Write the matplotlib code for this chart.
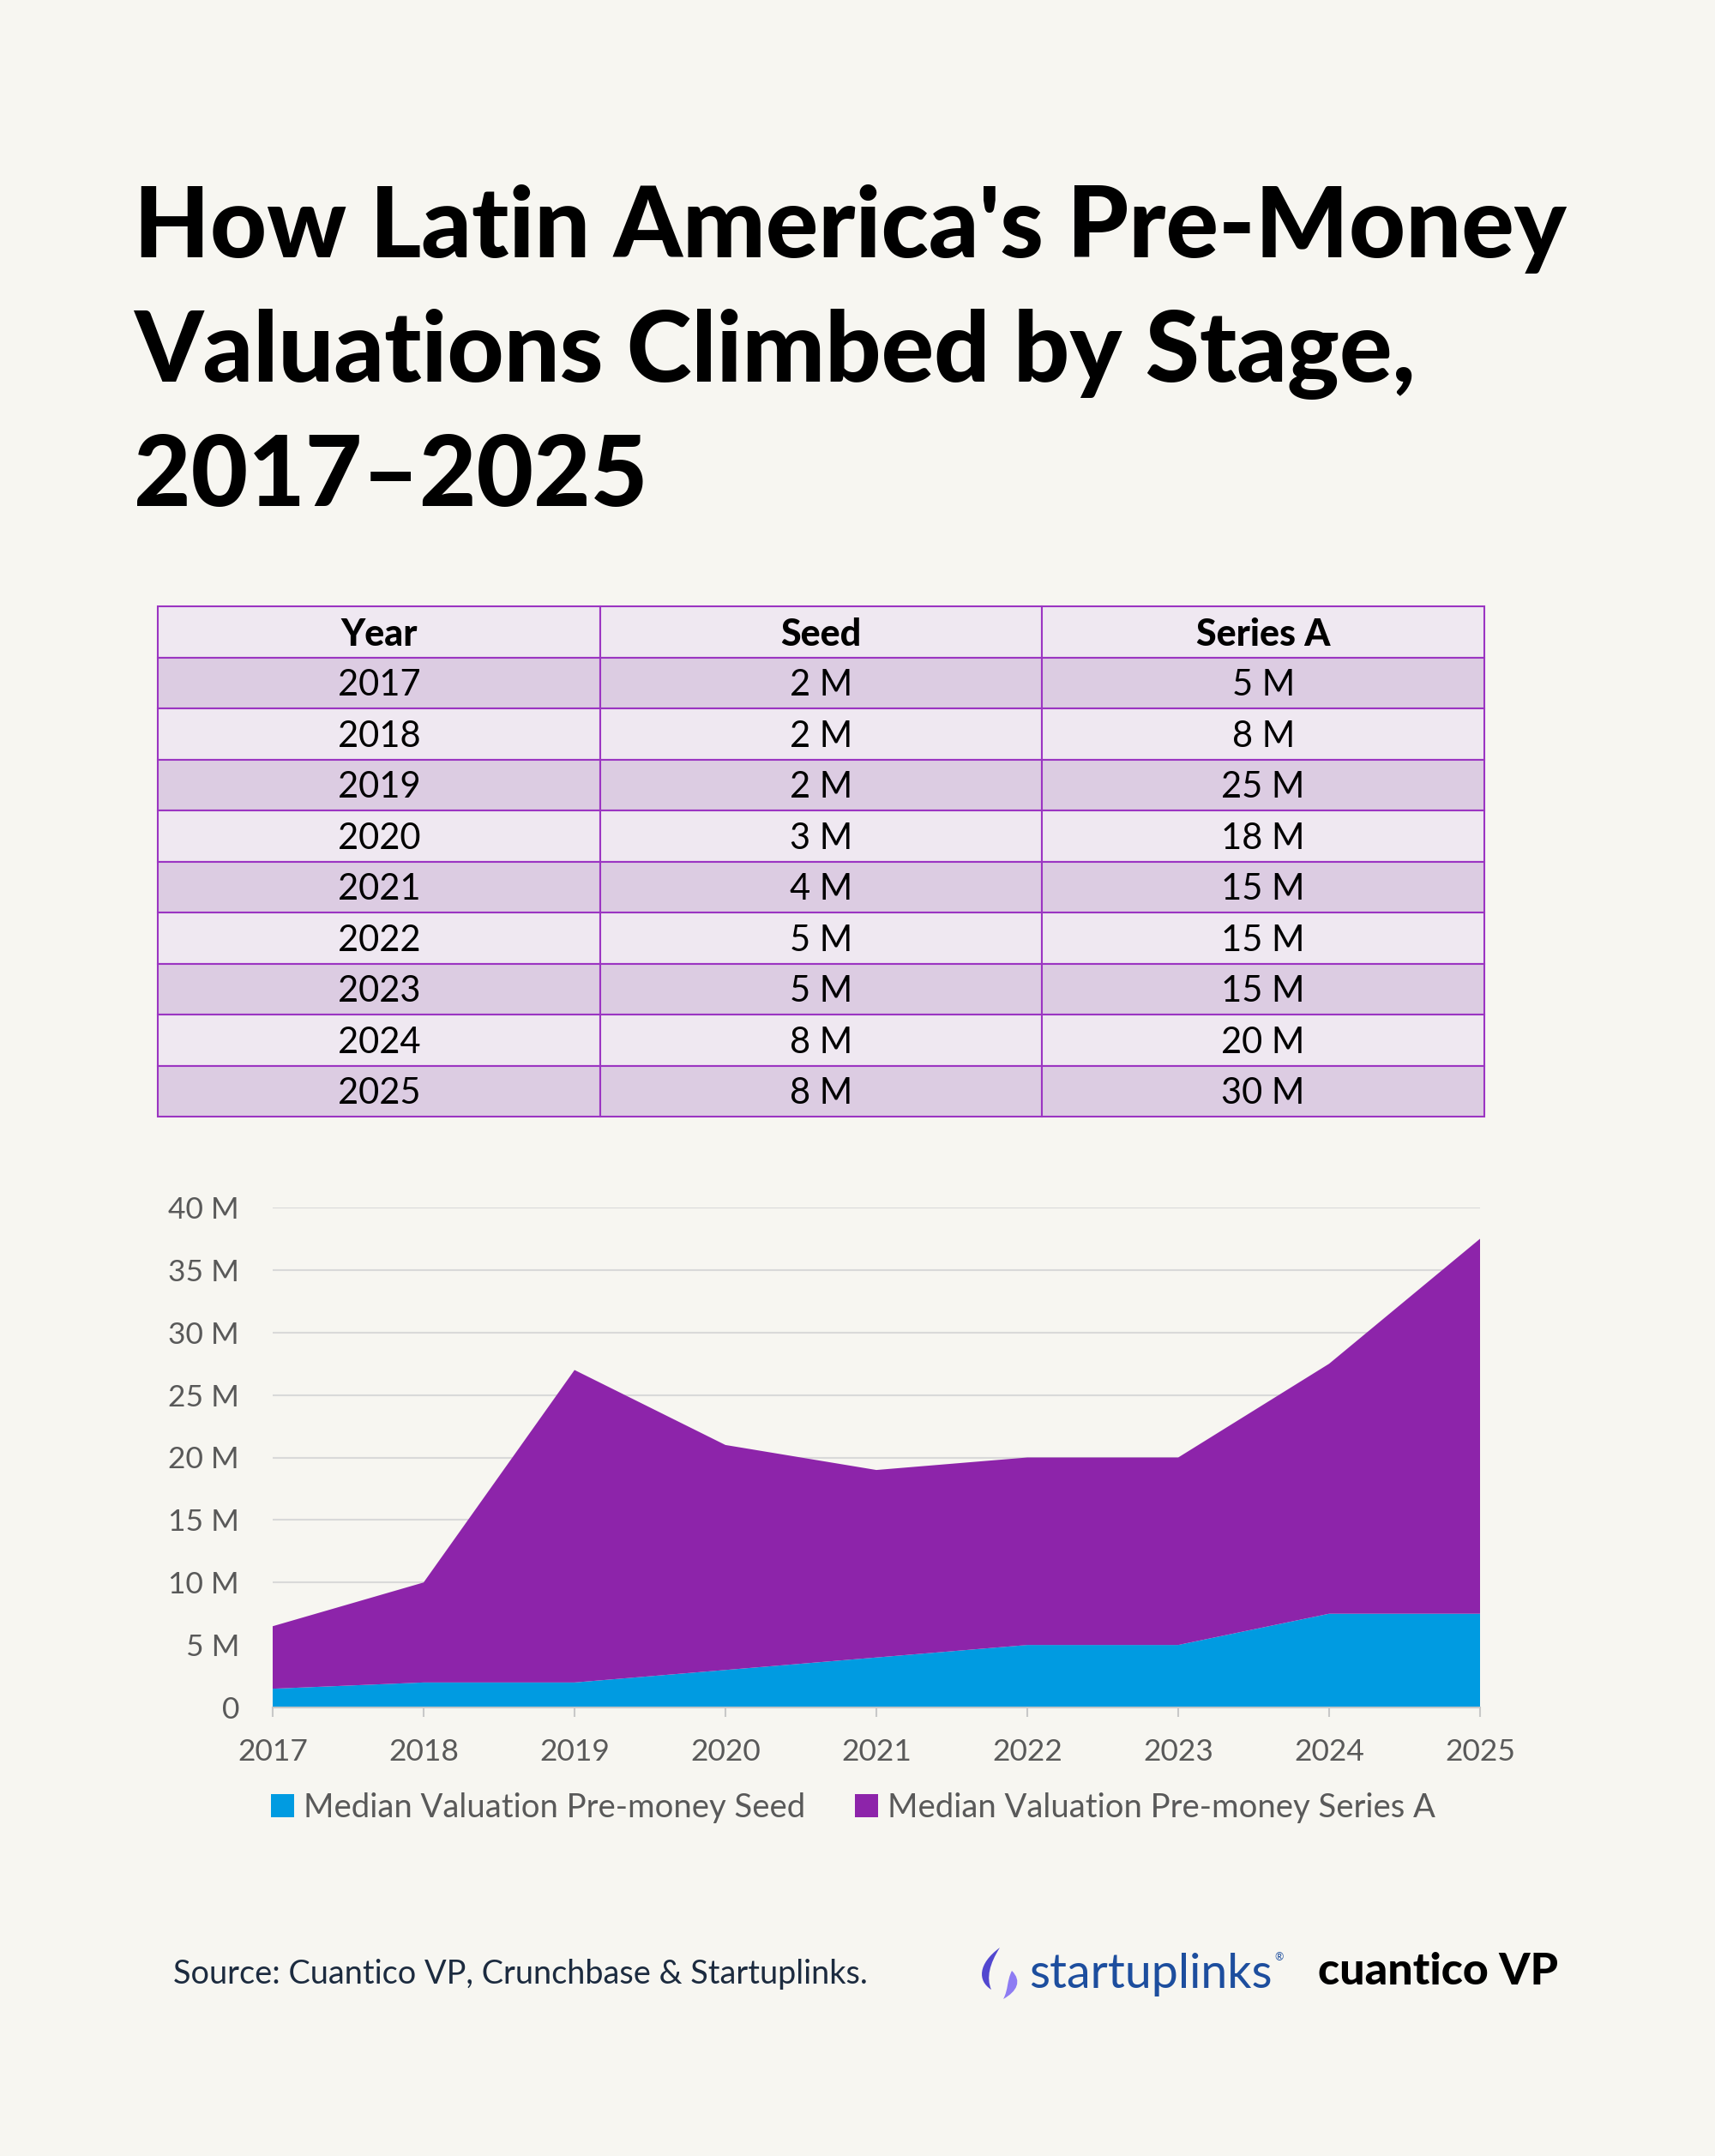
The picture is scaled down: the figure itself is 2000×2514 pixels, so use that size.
import numpy as np
import matplotlib
matplotlib.use('Agg')
import matplotlib.pyplot as plt
from matplotlib.patches import Rectangle, PathPatch
from matplotlib.path import Path
from matplotlib.ticker import FuncFormatter

# data
years = [2017, 2018, 2019, 2020, 2021, 2022, 2023, 2024, 2025]
seed_table = [2, 2, 2, 3, 4, 5, 5, 8, 8]
series_a_table = [5, 8, 25, 18, 15, 15, 15, 20, 30]
seed_chart = [1.5, 2, 2, 3, 4, 5, 5, 7.5, 7.5]
series_a_chart = [5, 8, 25, 18, 15, 15, 15, 20, 30]
table_header = ['Year', 'Seed', 'Series A']
legend_labels = ['Median Valuation Pre-money Seed', 'Median Valuation Pre-money Series A']
title_lines = ["How Latin America's Pre-Money", "Valuations Climbed by Stage,", "2017\u20132025"]

W, H = 2000, 2514
BG = '#F7F6F1'
BLUE = '#009BE1'
PURPLE = '#8D24AA'
GRAY = '#595959'

plt.rcParams['font.family'] = ['Lato', 'DejaVu Sans']

fig = plt.figure(figsize=(W / 100, H / 100), dpi=100, facecolor=BG)
renderer = fig.canvas.get_renderer()


def fx(x):
    return x / W


def fy(y):
    return 1 - y / H


def fit_size(txt, width, size, **kw):
    t = fig.text(0, 0, txt, fontsize=size, **kw)
    bb = t.get_window_extent(renderer)
    t.remove()
    return size * width / bb.width


# title
tsize = fit_size(title_lines[0], 1673, 90, fontweight='black')
for i, line in enumerate(title_lines):
    fig.text(fx(156), fy(300 + 145 * i), line, fontsize=tsize, fontweight='black',
             color='black', va='baseline', ha='left')

# table
tx0, tx1, ty0, ty1 = 184, 1731, 707, 1302
ax_t = fig.add_axes([fx(tx0), fy(ty1), fx(tx1 - tx0), (ty1 - ty0) / H])
ax_t.set_xlim(0, 3)
ax_t.set_ylim(10, 0)
ax_t.axis('off')
rows = [table_header] + [[str(y), f'{s} M', f'{a} M'] for y, s, a in zip(years, seed_table, series_a_table)]
for r, row in enumerate(rows):
    fc = '#EFE8F1' if r % 2 == 0 else '#DCCCE2'
    for c, val in enumerate(row):
        ax_t.add_patch(Rectangle((c, r), 1, 1, facecolor=fc, edgecolor='#9B35C2', lw=1.5, clip_on=False))
        ax_t.text(c + 0.5, r + 0.55, val, ha='center', va='center',
                  fontsize=31 if r == 0 else 30,
                  fontweight='black' if r == 0 else 'normal', color='black')

# chart
ax = fig.add_axes([fx(318), fy(1991), fx(1726 - 318), (1991 - 1408) / H])
ax.set_facecolor(BG)
ax.stackplot(years, seed_chart, series_a_chart, colors=[BLUE, PURPLE], labels=legend_labels, lw=0)
ax.set_xlim(years[0], years[-1])
ax.set_ylim(0, 40)
ax.set_yticks(np.arange(0, 41, 5))
ax.yaxis.set_major_formatter(FuncFormatter(lambda v, p: '0' if v == 0 else f'{int(v)} M'))
ax.set_xticks(years)
ax.grid(axis='y', color='#D9D9D9', lw=1.5)
ax.set_axisbelow(True)
for s in ['top', 'right', 'left']:
    ax.spines[s].set_visible(False)
ax.spines['bottom'].set_color('#C8C8C8')
ax.spines['bottom'].set_linewidth(1.5)
ax.tick_params(axis='y', length=0, pad=28, labelsize=25.5, labelcolor=GRAY)
ax.tick_params(axis='x', length=8, width=1.5, color='#C8C8C8', pad=18, labelsize=25.5, labelcolor=GRAY)

leg = fig.legend(loc='center', bbox_to_anchor=(fx(995), fy(2108)), ncol=2, frameon=False,
                 fontsize=27.5, handlelength=0.7, handleheight=0.7, handletextpad=0.3,
                 columnspacing=1.5, labelcolor=GRAY)

# footer
src = 'Source: Cuantico VP, Crunchbase & Startuplinks.'
fig.text(fx(202), fy(2302), src, fontsize=fit_size(src, 809, 24), color='#1C2B3F',
         va='center', ha='left')


# startuplinks mark
def leaf(pts, color):
    codes = [Path.MOVETO] + [Path.CURVE4] * 6
    p = PathPatch(Path([(fx(a), fy(b)) for a, b in pts], codes), transform=fig.transFigure,
                  facecolor=color, edgecolor='none')
    fig.patches.append(p)


leaf([(1166, 2271), (1140, 2290), (1140, 2310), (1156, 2320),
      (1150, 2306), (1154, 2290), (1166, 2271)], '#5247CF')
leaf([(1180, 2298), (1192, 2310), (1186, 2322), (1170, 2331),
      (1176, 2320), (1174, 2310), (1180, 2298)], '#8E7CF3')

ssize = fit_size('startuplinks', 284, 34)
fig.text(fx(1200), fy(2302), 'startuplinks', fontsize=ssize, color='#1D4E9E', va='center', ha='left')
fig.text(fx(1486), fy(2282), '\u00ae', fontsize=9, color='#1D4E9E', va='center', ha='left')

csize = fit_size('cuantico VP', 280, 34, fontweight='black')
fig.text(fx(1537), fy(2300), 'cuantico VP', fontsize=csize, fontweight='black', color='black',
         va='center', ha='left')

fig.savefig('out.png', dpi=100, facecolor=BG)
